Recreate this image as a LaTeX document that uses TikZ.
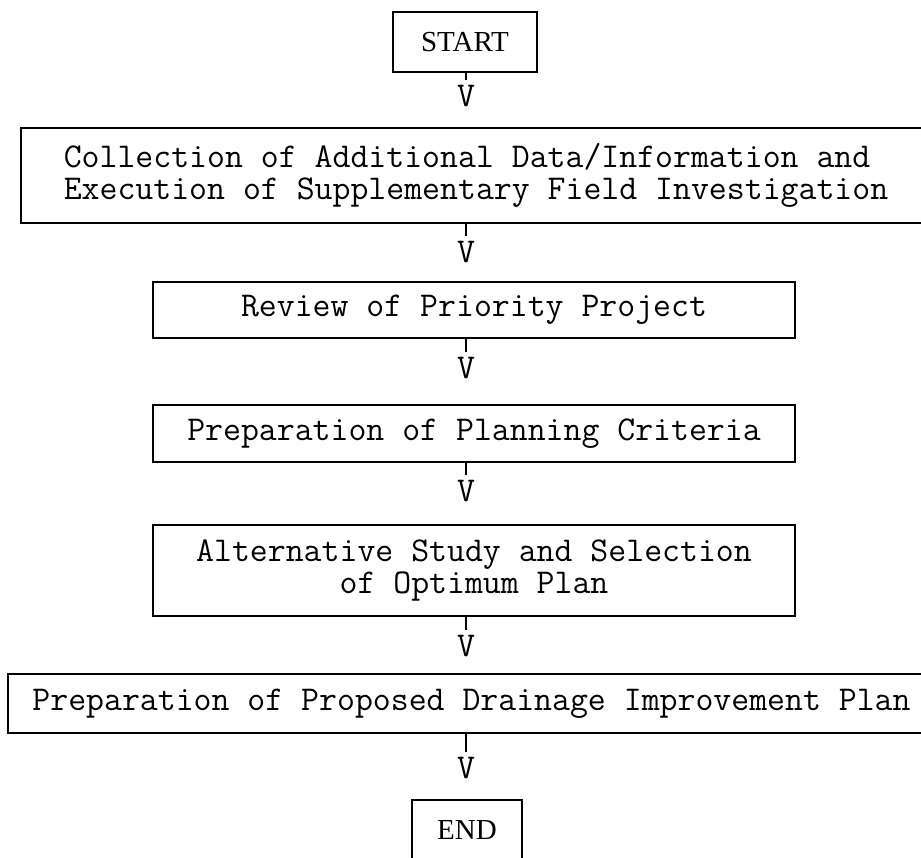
\documentclass[tikz,border=0pt]{standalone}
\usepackage{fontspec}
\setmainfont{Liberation Serif}
\begin{document}
\begin{tikzpicture}[x=1pt, y=1pt, line width=1.4pt,
    every node/.style={font=\ttfamily\fontsize{34.8}{32}\selectfont},
    stepbox/.style={draw, inner sep=0pt, align=center},
    termbox/.style={stepbox, font=\rmfamily\fontsize{29}{30}\selectfont},
    vmark/.style={inner sep=0pt}]
  \useasboundingbox (0,0) rectangle (921,-857);
  % boxes
  \node[termbox, minimum width=144, minimum height=60] (start) at (465,-42) {START};
  \node[stepbox, align=left, minimum width=910, minimum height=95] (collect) at (476,-175.5)
    {Collection of Additional Data/Information and\\Execution of Supplementary Field Investigation};
  \node[stepbox, minimum width=642, minimum height=56] (review) at (474,-310) {Review of Priority Project};
  \node[stepbox, minimum width=642, minimum height=57] (criteria) at (474,-433.5) {Preparation of Planning Criteria};
  \node[stepbox, minimum width=642, minimum height=91] (altern) at (474,-570.5)
    {Alternative Study and Selection\\of Optimum Plan};
  \node[stepbox, minimum width=927, minimum height=59] (drainage) at (471.5,-703.5)
    {Preparation of Proposed Drainage Improvement Plan};
  \node[termbox, minimum width=110, minimum height=60] (end) at (467,-830) {END};
  % the V marks under each box
  \node[vmark] (v1) at (466,-96) {V};
  \node[vmark] (v2) at (466,-252) {V};
  \node[vmark] (v3) at (466,-368) {V};
  \node[vmark] (v4) at (466,-491) {V};
  \node[vmark] (v5) at (466,-646) {V};
  \node[vmark] (v6) at (466,-768) {V};
  \draw (start.south -| v1) -- ([yshift=5]v1.north);
  \draw (collect.south -| v2) -- ([yshift=5]v2.north);
  \draw (review.south -| v3) -- ([yshift=5]v3.north);
  \draw (criteria.south -| v4) -- ([yshift=5]v4.north);
  \draw (altern.south -| v5) -- ([yshift=5]v5.north);
  \draw (drainage.south -| v6) -- ([yshift=5]v6.north);
\end{tikzpicture}
\end{document}
